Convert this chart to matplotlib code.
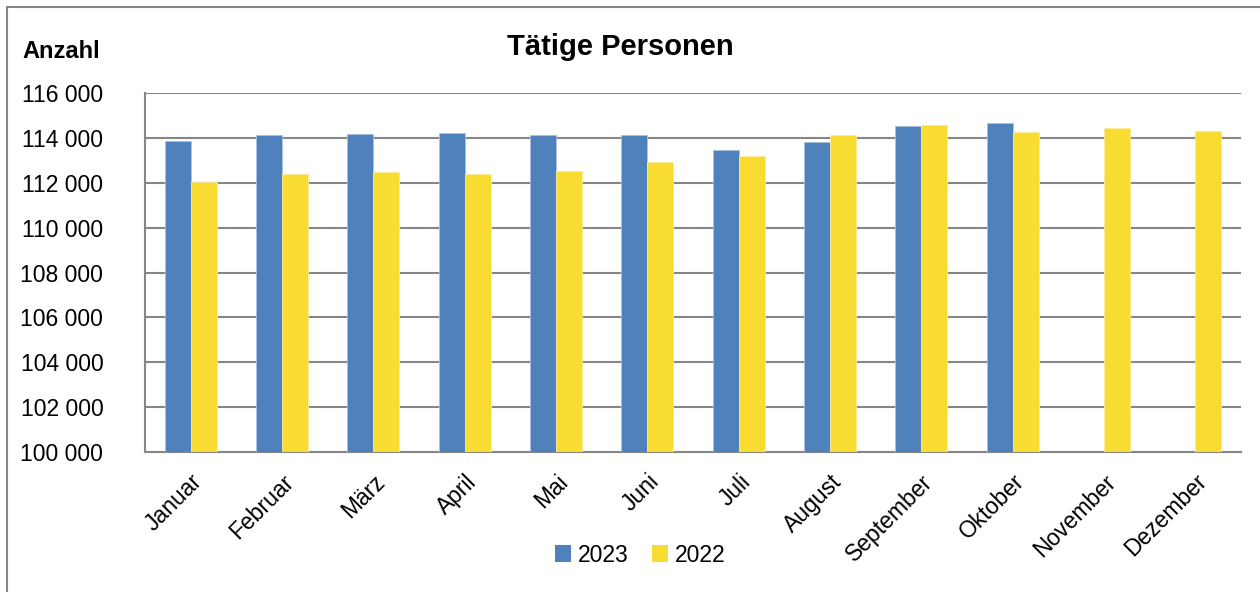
import numpy as np
import matplotlib
matplotlib.use("Agg")
import matplotlib.pyplot as plt
from matplotlib.ticker import FuncFormatter, MultipleLocator
from matplotlib.patches import Rectangle, Patch

plt.rcParams["font.family"] = ["Liberation Sans", "DejaVu Sans"]

months = ["Januar", "Februar", "März", "April", "Mai", "Juni", "Juli",
          "August", "September", "Oktober", "November", "Dezember"]
vals_2023 = [113850, 114150, 114165, 114225, 114120, 114120, 113480,
             113795, 114520, 114660, np.nan, np.nan]
vals_2022 = [112030, 112370, 112475, 112370, 112520, 112920, 113195,
             114120, 114555, 114255, 114420, 114315]

col_2023 = "#4F81BD"
col_2022 = "#F9DC32"
grid_col = "#868686"

W, H = 1260, 592
fig = plt.figure(figsize=(W / 100, H / 100), dpi=100)
ax = fig.add_axes([145 / W, 1 - 452 / H, (1241 - 145) / W, (452 - 93) / H])

x = np.arange(len(months))
bw = 0.285
ax.bar(x - bw / 2, vals_2023, width=bw, color=col_2023, edgecolor="#A9C1DE",
       linewidth=0.6, zorder=3)
ax.bar(x + bw / 2, vals_2022, width=bw, color=col_2022, edgecolor="#FCEB9A",
       linewidth=0.6, zorder=3)

ax.set_xlim(-0.5, len(months) - 0.5)
ax.set_ylim(100000, 116000)
ax.yaxis.set_major_locator(MultipleLocator(2000))
ax.yaxis.set_major_formatter(FuncFormatter(lambda v, p: f"{int(v):,}".replace(",", " ")))
ax.grid(True, axis="y", color=grid_col, linewidth=1.5, zorder=0)
ax.set_axisbelow(True)

for s in ["top", "right"]:
    ax.spines[s].set_visible(False)
for s in ["left", "bottom"]:
    ax.spines[s].set_color(grid_col)
    ax.spines[s].set_linewidth(1.5)

ax.set_xticks(x)
ax.set_xticklabels(months, rotation=45, ha="right", rotation_mode="anchor", fontsize=16.5)
ax.tick_params(axis="x", length=0, pad=13)
ax.tick_params(axis="y", length=0, labelsize=16.5, pad=30)

fig.text(620 / W, 1 - 47 / H, "Tätige Personen", ha="center", va="center",
         fontsize=21, fontweight="bold")
fig.text(22 / W, 1 - 52 / H, "Anzahl", ha="left", va="center",
         fontsize=17, fontweight="bold")

handles = [Patch(facecolor=col_2023), Patch(facecolor=col_2022)]
fig.legend(handles, ["2023", "2022"], loc="center", bbox_to_anchor=(640 / W, 1 - 555 / H),
           ncol=2, frameon=False, fontsize=16.5, handlelength=0.7, handleheight=0.7,
           handletextpad=0.3, columnspacing=1.0)

# outer chart border
fig.patches.append(Rectangle((7 / W, -0.1), 1.2, 1.1 - 7 / H, transform=fig.transFigure,
                             fill=False, edgecolor=grid_col, linewidth=1.5))

fig.savefig("out.png", dpi=100)
